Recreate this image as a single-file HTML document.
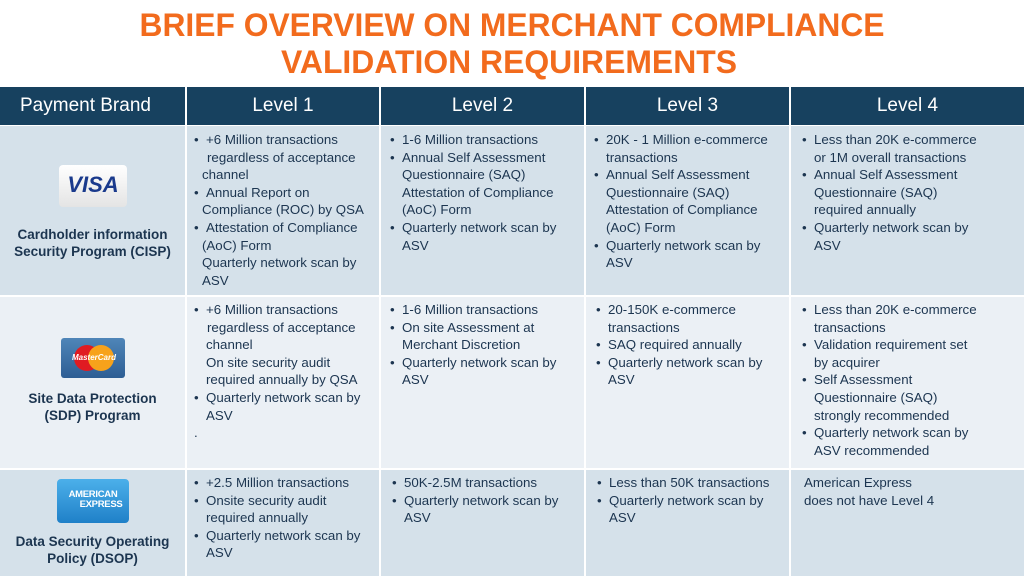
<!DOCTYPE html>
<html><head><meta charset="utf-8"><style>
body{margin:0;width:1024px;height:576px;background:#fff;position:relative;overflow:hidden;font-family:"Liberation Sans",sans-serif;}
.a{position:absolute}
.hd{background:#17415f;color:#fff;font-size:19px;line-height:38px;text-align:center;top:87px;height:38px}
.r1{background:#d5e1ea}.r2{background:#ebf0f5}
.cell{position:absolute;font-size:13.3px;line-height:17.6px;color:#1c3550;white-space:nowrap}
.cell div{position:relative;padding-left:12px}
.cell div.b::before{content:"•";position:absolute;left:0}
.cell div.p{padding-left:8px}
.cell div.q{padding-left:0}
.brand{position:absolute;left:0;width:185px;text-align:center;font-weight:bold;font-size:13.5px;line-height:17px;color:#1c3550}
</style></head><body>
<svg class="a" style="left:0;top:0" width="1024" height="87">
<text x="512" y="36" text-anchor="middle" textLength="745" lengthAdjust="spacingAndGlyphs" fill="#f26b1d" font-family="Liberation Sans" font-weight="bold" font-size="32">BRIEF OVERVIEW ON MERCHANT COMPLIANCE</text>
<text x="509" y="73" text-anchor="middle" textLength="456" lengthAdjust="spacingAndGlyphs" fill="#f26b1d" font-family="Liberation Sans" font-weight="bold" font-size="32">VALIDATION REQUIREMENTS</text>
</svg>
<div class="a hd" style="left:0;width:185px;text-align:left;padding-left:20px;box-sizing:border-box">Payment Brand</div>
<div class="a hd" style="left:187px;width:192px">Level 1</div>
<div class="a hd" style="left:381px;width:203px">Level 2</div>
<div class="a hd" style="left:586px;width:203px">Level 3</div>
<div class="a hd" style="left:791px;width:233px">Level 4</div>

<div class="a r1" style="left:0;top:126px;width:185px;height:169px"></div>
<div class="a r1" style="left:187px;top:126px;width:192px;height:169px"></div>
<div class="a r1" style="left:381px;top:126px;width:203px;height:169px"></div>
<div class="a r1" style="left:586px;top:126px;width:203px;height:169px"></div>
<div class="a r1" style="left:791px;top:126px;width:233px;height:169px"></div>

<div class="a r2" style="left:0;top:297px;width:185px;height:171px"></div>
<div class="a r2" style="left:187px;top:297px;width:192px;height:171px"></div>
<div class="a r2" style="left:381px;top:297px;width:203px;height:171px"></div>
<div class="a r2" style="left:586px;top:297px;width:203px;height:171px"></div>
<div class="a r2" style="left:791px;top:297px;width:233px;height:171px"></div>

<div class="a r1" style="left:0;top:470px;width:185px;height:106px"></div>
<div class="a r1" style="left:187px;top:470px;width:192px;height:106px"></div>
<div class="a r1" style="left:381px;top:470px;width:203px;height:106px"></div>
<div class="a r1" style="left:586px;top:470px;width:203px;height:106px"></div>
<div class="a r1" style="left:791px;top:470px;width:233px;height:106px"></div>

<!-- logos -->
<div class="a" style="left:59px;top:165px;width:68px;height:42px;border-radius:4px;background:linear-gradient(#fff,#e4e4e4);"></div>
<div class="a" style="left:59px;top:172px;width:68px;text-align:center;font:italic bold 22px 'Liberation Sans',sans-serif;color:#1a3a8c">VISA</div>
<div class="a" style="left:61px;top:338px;width:64px;height:40px;border-radius:3px;background:linear-gradient(#4f86b8,#2d5e94)"></div>
<div class="a" style="left:74px;top:345px;width:26px;height:26px;border-radius:50%;background:#e01b22"></div>
<div class="a" style="left:88px;top:345px;width:26px;height:26px;border-radius:50%;background:#f7a21b"></div>
<div class="a" style="left:70px;top:353px;width:48px;text-align:center;font:italic bold 8px 'Liberation Sans',sans-serif;color:#fff">MasterCard</div>
<div class="a" style="left:57px;top:479px;width:72px;height:44px;border-radius:4px;background:linear-gradient(#4cb0ea,#1f80c8)"></div>
<div class="a" style="left:57px;top:490px;width:72px;text-align:center;font:bold 9.5px/10px 'Liberation Sans',sans-serif;color:#fff;letter-spacing:-0.3px">AMERICAN<br><span style="padding-left:16px">EXPRESS</span></div>

<div class="brand" style="top:226px">Cardholder information<br>Security Program (CISP)</div>
<div class="brand" style="top:390px">Site Data Protection<br>(SDP) Program</div>
<div class="brand" style="top:533px">Data Security Operating<br>Policy (DSOP)</div>

<!-- row 1 -->
<div class="cell" style="left:194px;top:131px">
<div class="b">+6 Million transactions</div>
<div style="padding-left:13px">regardless of acceptance</div>
<div class="p">channel</div>
<div class="b">Annual Report on</div>
<div class="p">Compliance (ROC) by QSA</div>
<div class="b">Attestation of Compliance</div>
<div class="p">(AoC) Form</div>
<div class="p">Quarterly network scan by</div>
<div class="p">ASV</div>
</div>
<div class="cell" style="left:390px;top:131px">
<div class="b">1-6 Million transactions</div>
<div class="b">Annual Self Assessment</div>
<div>Questionnaire (SAQ)</div>
<div>Attestation of Compliance</div>
<div>(AoC) Form</div>
<div class="b">Quarterly network scan by</div>
<div>ASV</div>
</div>
<div class="cell" style="left:594px;top:131px">
<div class="b">20K - 1 Million e-commerce</div>
<div>transactions</div>
<div class="b">Annual Self Assessment</div>
<div>Questionnaire (SAQ)</div>
<div>Attestation of Compliance</div>
<div>(AoC) Form</div>
<div class="b">Quarterly network scan by</div>
<div>ASV</div>
</div>
<div class="cell" style="left:802px;top:131px">
<div class="b">Less than 20K e-commerce</div>
<div>or 1M overall transactions</div>
<div class="b">Annual Self Assessment</div>
<div>Questionnaire (SAQ)</div>
<div>required annually</div>
<div class="b">Quarterly network scan by</div>
<div>ASV</div>
</div>

<!-- row 2 -->
<div class="cell" style="left:194px;top:301px">
<div class="b">+6 Million transactions</div>
<div style="padding-left:13px">regardless of acceptance</div>
<div>channel</div>
<div>On site security audit</div>
<div>required annually by QSA</div>
<div class="b">Quarterly network scan by</div>
<div>ASV</div>
<div class="q">.</div>
</div>
<div class="cell" style="left:390px;top:301px">
<div class="b">1-6 Million transactions</div>
<div class="b">On site Assessment at</div>
<div>Merchant Discretion</div>
<div class="b">Quarterly network scan by</div>
<div>ASV</div>
</div>
<div class="cell" style="left:596px;top:301px">
<div class="b">20-150K e-commerce</div>
<div>transactions</div>
<div class="b">SAQ required annually</div>
<div class="b">Quarterly network scan by</div>
<div>ASV</div>
</div>
<div class="cell" style="left:802px;top:301px">
<div class="b">Less than 20K e-commerce</div>
<div>transactions</div>
<div class="b">Validation requirement set</div>
<div>by acquirer</div>
<div class="b">Self Assessment</div>
<div>Questionnaire (SAQ)</div>
<div>strongly recommended</div>
<div class="b">Quarterly network scan by</div>
<div>ASV recommended</div>
</div>

<!-- row 3 -->
<div class="cell" style="left:194px;top:474px">
<div class="b">+2.5 Million transactions</div>
<div class="b">Onsite security audit</div>
<div>required annually</div>
<div class="b">Quarterly network scan by</div>
<div>ASV</div>
</div>
<div class="cell" style="left:392px;top:474px">
<div class="b">50K-2.5M transactions</div>
<div class="b">Quarterly network scan by</div>
<div>ASV</div>
</div>
<div class="cell" style="left:597px;top:474px">
<div class="b">Less than 50K transactions</div>
<div class="b">Quarterly network scan by</div>
<div>ASV</div>
</div>
<div class="cell" style="left:804px;top:474px">
<div class="q">American Express</div>
<div class="q">does not have Level 4</div>
</div>
</body></html>
